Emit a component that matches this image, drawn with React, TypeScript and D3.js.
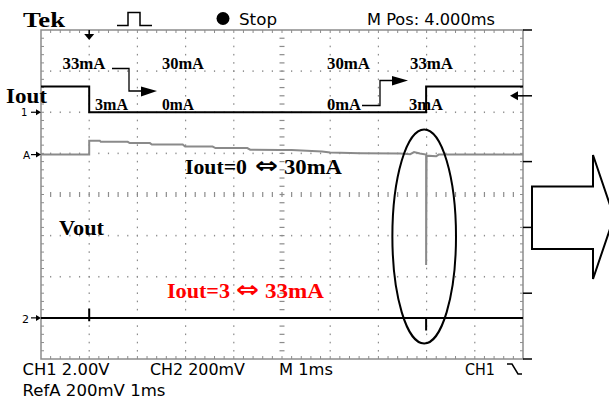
import React from "react";
import * as d3 from "d3";

// ---- data (time in ms, values in channel units) ----
const ioutTime = [0, 1.0, 1.0, 7.99, 7.99, 10];
const ioutVolts = [1.25, 1.25, 0, 0, 1.25, 1.25]; // CH1, 2.00 V/div, offset +2 div

const refATime = [0, 1.0, 1.0, 1.22, 1.24, 1.8, 1.84, 2.26, 2.3, 2.94, 2.99, 3.56, 3.62, 4.28, 4.34, 4.96, 5.2, 5.83, 6.0, 6.62, 7.45, 7.66, 7.74, 7.86, 7.99, 7.99, 8.0, 8.2, 8.25, 10];
const refAmV = [0, 0, 68, 68, 62, 62, 56, 56, 49, 49, 39, 39, 32, 32, 24, 22, 22, 15, 10, 7, 5, 2, 12, 5, 0, -537, -5, -8, 0, 0];

const ch2Time = [0, 1.0, 1.0, 1.0, 1.0, 7.99, 7.99, 7.99, 10];
const ch2mV = [0, 0, 46, -17, 0, 0, -62, 0, 0];

const topLabels = ["33mA", "30mA", "30mA", "33mA"];
const bottomLabels = ["3mA", "0mA", "0mA", "3mA"];

// channel settings
const CH1_VDIV = 2.0, CH1_OFF = 2.0;
const REFA_DIV = 200, REFA_OFF = 0.97;
const CH2_DIV = 200, CH2_OFF = -3.0;

const W = 609, H = 403;
const x = d3.scaleLinear().domain([0, 10]).range([41, 523]);
const y = d3.scaleLinear().domain([-4, 4]).range([359, 30]);

const serif = "'Liberation Serif', 'Times New Roman', serif";
const scopeFont = "'DejaVu Sans', 'Liberation Sans', sans-serif";

export default function App() {
  const line = d3.line<[number, number]>().x(d => d[0]).y(d => d[1]).curve(d3.curveLinear);

  const ioutPts = ioutTime.map((t, i) => [x(t), y(ioutVolts[i] / CH1_VDIV + CH1_OFF)] as [number, number]);
  const refPts = refATime.map((t, i) => [x(t), y(refAmV[i] / REFA_DIV + REFA_OFF)] as [number, number]);
  const ch2Pts = ch2Time.map((t, i) => [x(t), y(ch2mV[i] / CH2_DIV + CH2_OFF)] as [number, number]);

  // grid dots
  const dots: JSX.Element[] = [];
  const gray = "#8c8c8c";
  for (let i = 1; i <= 9; i++) {
    for (let k = 1; k < 40; k++) {
      const yy = y(-4 + k * 0.2);
      if (i === 5) {
        dots.push(<rect key={`cv${k}`} x={x(5) - 2.5} y={yy - 0.6} width={5} height={1.2} fill={gray} />);
      } else {
        dots.push(<rect key={`v${i}-${k}`} x={x(i) - 0.6} y={yy - 0.8} width={1.2} height={1.6} fill={gray} />);
      }
    }
  }
  for (let j = -3; j <= 3; j++) {
    for (let k = 1; k < 50; k++) {
      const xx = x(k * 0.2);
      if (j === 0) {
        dots.push(<rect key={`ch${k}`} x={xx - 0.6} y={y(0) - 2.5} width={1.2} height={5} fill={gray} />);
      } else {
        dots.push(<rect key={`h${j}-${k}`} x={xx - 0.6} y={y(j) - 0.8} width={1.2} height={1.6} fill={gray} />);
      }
    }
  }
  // frame ticks
  const frameTicks: JSX.Element[] = [];
  for (let k = 1; k < 50; k++) {
    const xx = x(k * 0.2);
    frameTicks.push(<line key={`ft${k}`} x1={xx} x2={xx} y1={y(4)} y2={y(4) + 3} stroke={gray} strokeWidth={1} />);
    frameTicks.push(<line key={`fb${k}`} x1={xx} x2={xx} y1={y(-4)} y2={y(-4) - 3} stroke={gray} strokeWidth={1} />);
  }
  for (let k = 1; k < 40; k++) {
    const yy = y(-4 + k * 0.2);
    frameTicks.push(<line key={`fl${k}`} x1={x(0)} x2={x(0) + 3} y1={yy} y2={yy} stroke={gray} strokeWidth={1} />);
    frameTicks.push(<line key={`fr${k}`} x1={x(10)} x2={x(10) - 3} y1={yy} y2={yy} stroke={gray} strokeWidth={1} />);
  }
  const rightTicks = d3.range(6).map(k => y(4) + (k * (y(-4) - y(4))) / 5);

  const lbl = (txt: string, px: number, py: number, len: number, key: string) => (
    <text key={key} x={px} y={py} fontFamily={serif} fontWeight="bold" fontSize={16} textLength={len} lengthAdjust="spacingAndGlyphs" fill="#000">{txt}</text>
  );

  const eq = (a: string, b: string, px: number, py: number, color: string, w1: number, gx: number, b0: number, w3: number) => (
    <g fill={color}>
      <text x={px} y={py} fontFamily={serif} fontWeight="bold" fontSize={21} textLength={w1} lengthAdjust="spacingAndGlyphs">{a}</text>
      <text x={gx} y={py - 1} fontFamily={scopeFont} fontWeight="bold" fontSize={22} textLength={23} lengthAdjust="spacingAndGlyphs">⇔</text>
      <text x={b0} y={py} fontFamily={serif} fontWeight="bold" fontSize={21} textLength={w3} lengthAdjust="spacingAndGlyphs">{b}</text>
    </g>
  );

  return (
    <svg width={W} height={H} style={{ position: "absolute", left: 0, top: 0, background: "#fff" }}>
      <rect width={W} height={H} fill="#fff" />
      {/* header */}
      <text x={23} y={27} fontFamily={serif} fontWeight="bold" fontSize={22} textLength={42} lengthAdjust="spacingAndGlyphs">Tek</text>
      <path d="M117,25.5 H128 V12.5 H140 V25.5 H152" fill="none" stroke="#000" strokeWidth={1.5} />
      <circle cx={223} cy={18.5} r={6.5} fill="#000" />
      <text x={239} y={24.5} fontFamily={scopeFont} fontSize={15} textLength={38} lengthAdjust="spacingAndGlyphs">Stop</text>
      <text x={367} y={24.5} fontFamily={scopeFont} fontSize={15} textLength={128} lengthAdjust="spacingAndGlyphs">M Pos: 4.000ms</text>

      {/* grid */}
      {dots}
      <rect x={x(0)} y={y(4)} width={x(10) - x(0)} height={y(-4) - y(4)} fill="none" stroke={gray} strokeWidth={1.5} />
      {frameTicks}
      {rightTicks.map((yy, k) => (
        <line key={`rt${k}`} x1={x(10)} x2={x(10) + 9} y1={yy} y2={yy} stroke="#000" strokeWidth={1.5} />
      ))}

      {/* trigger markers */}
      <line x1={x(1)} x2={x(1)} y1={30} y2={35} stroke="#000" strokeWidth={1.5} />
      <path d={`M${x(1) - 5},34 L${x(1) + 5},34 L${x(1)},40 Z`} fill="#000" />
      <line x1={515} x2={523} y1={rightTicks[1]} y2={rightTicks[1]} stroke="#000" strokeWidth={1.5} />
      <path d={`M510,${rightTicks[1]} L518,${rightTicks[1] - 4.5} L518,${rightTicks[1] + 4.5} Z`} fill="#000" />

      {/* channel markers */}
      <text x={21} y={115.5} fontFamily={scopeFont} fontSize={10}>1</text>
      <path d={`M31,${y(CH1_OFF)} H38`} stroke="#000" strokeWidth={1.2} />
      <path d={`M36,${y(CH1_OFF) - 3} L41,${y(CH1_OFF)} L36,${y(CH1_OFF) + 3} Z`} fill="#000" />
      <text x={23} y={158.5} fontFamily={scopeFont} fontSize={10.5}>A</text>
      <path d={`M31,${y(REFA_OFF)} H38`} stroke="#000" strokeWidth={1.2} />
      <path d={`M36,${y(REFA_OFF) - 3} L41,${y(REFA_OFF)} L36,${y(REFA_OFF) + 3} Z`} fill="#000" />
      <text x={22} y={322.5} fontFamily={scopeFont} fontSize={11}>2</text>
      <path d={`M31,${y(CH2_OFF)} H38`} stroke="#000" strokeWidth={1.2} />
      <path d={`M36,${y(CH2_OFF) - 3} L41,${y(CH2_OFF)} L36,${y(CH2_OFF) + 3} Z`} fill="#000" />

      {/* traces */}
      <path d={line(refPts) || ""} fill="none" stroke="#8a8a8a" strokeWidth={2} />
      <path d={line(ioutPts) || ""} fill="none" stroke="#000" strokeWidth={2} />
      <path d={line(ch2Pts) || ""} fill="none" stroke="#000" strokeWidth={2} />

      {/* annotation arrows */}
      <path d="M112,68.5 H129 V91 H142" fill="none" stroke="#000" strokeWidth={1.3} />
      <path d="M141,86.5 L157,91 L141,96.5 Z" fill="#000" />
      <path d="M362,105.5 H380 V80.5 H393" fill="none" stroke="#000" strokeWidth={1.3} />
      <path d="M392,76 L408,80.5 L392,85.5 Z" fill="#000" />

      {lbl(topLabels[0], 62.5, 69, 43, "t0")}
      {lbl(topLabels[1], 162, 69, 42, "t1")}
      {lbl(topLabels[2], 327, 69, 43, "t2")}
      {lbl(topLabels[3], 410, 69, 43, "t3")}
      {lbl(bottomLabels[0], 95, 110, 33, "b0")}
      {lbl(bottomLabels[1], 162, 110, 32, "b1")}
      {lbl(bottomLabels[2], 327, 110, 34, "b2")}
      {lbl(bottomLabels[3], 409, 110, 34, "b3")}

      <text x={6} y={103} fontFamily={serif} fontWeight="bold" fontSize={22} textLength={41} lengthAdjust="spacingAndGlyphs">Iout</text>
      <text x={59} y={235} fontFamily={serif} fontWeight="bold" fontSize={22} textLength={45} lengthAdjust="spacingAndGlyphs">Vout</text>
      {eq("Iout=0", "30mA", 185, 174, "#000", 62, 255, 284, 58)}
      {eq("Iout=3", "33mA", 167, 298, "#ff0000", 63, 236, 265, 59)}

      {/* highlight ellipse */}
      <ellipse cx={x(7.95)} cy={y(-1.02)} rx={x(0.66) - x(0)} ry={107} fill="none" stroke="#000" strokeWidth={2} />

      {/* big arrow */}
      <path d="M532,186.5 H593 V155 L614,217 L593,279 V249 H532 Z" fill="none" stroke="#000" strokeWidth={2} />

      {/* footer */}
      <text x={22.5} y={375} fontFamily={scopeFont} fontSize={15} textLength={87} lengthAdjust="spacingAndGlyphs">CH1 2.00V</text>
      <text x={150} y={375} fontFamily={scopeFont} fontSize={15} textLength={95} lengthAdjust="spacingAndGlyphs">CH2 200mV</text>
      <text x={279} y={375} fontFamily={scopeFont} fontSize={15} textLength={54} lengthAdjust="spacingAndGlyphs">M 1ms</text>
      <text x={465} y={375} fontFamily={scopeFont} fontSize={15} textLength={30} lengthAdjust="spacingAndGlyphs">CH1</text>
      <path d="M507,364 H512 L518,374 H522" fill="none" stroke="#000" strokeWidth={1.5} />
      <text x={22.5} y={396} fontFamily={scopeFont} fontSize={15} textLength={143} lengthAdjust="spacingAndGlyphs">RefA 200mV 1ms</text>
    </svg>
  );
}
